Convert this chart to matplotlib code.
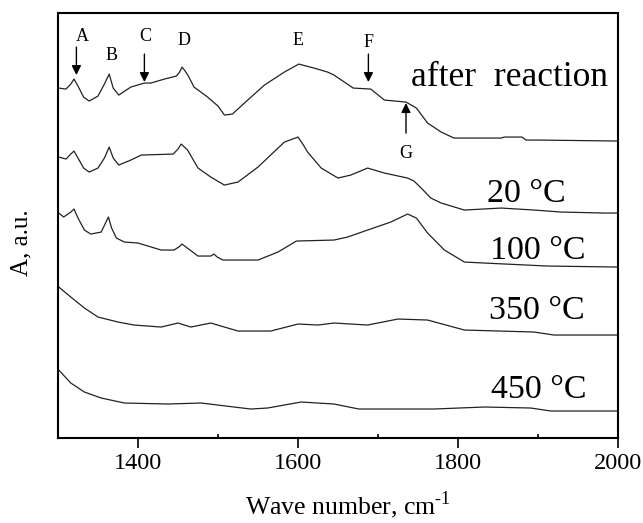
import numpy as np
import matplotlib
matplotlib.use("Agg")
import matplotlib.pyplot as plt

plt.rcParams['font.family'] = ['Liberation Serif', 'DejaVu Serif']
plt.rcParams['mathtext.fontset'] = 'custom'
plt.rcParams['mathtext.rm'] = 'Liberation Serif'

# spectra, absorbance in a.u. (offset stacked as in the figure)
wn_after = [1301, 1310, 1316, 1320, 1325, 1332, 1339, 1350, 1358, 1364, 1369, 1376, 1391, 1408, 1416,
            1433, 1448, 1452, 1455, 1459, 1463, 1470, 1487, 1500, 1508, 1518, 1533, 1558, 1583, 1601,
            1620, 1637, 1645, 1669, 1691, 1708, 1735, 1748, 1762, 1779, 1795, 1854, 1858, 1880, 1885,
            1901, 2000]
a_after = [350, 349, 354, 359, 352, 341, 337, 342, 354, 364, 350, 343, 351, 355, 355,
           359, 362, 366, 371, 367, 362, 351, 341, 332, 323, 324, 335, 353, 366, 374,
           370, 366, 363, 350, 349, 338, 336, 330, 315, 306, 300, 300, 301, 301, 298,
           298, 297]

wn_20 = [1301, 1310, 1316, 1320, 1325, 1332, 1339, 1350, 1358, 1364, 1369, 1376, 1391, 1404, 1444,
         1450, 1454, 1458, 1462, 1475, 1491, 1508, 1525, 1550, 1583, 1600, 1606, 1612, 1629, 1650,
         1666, 1687, 1708, 1737, 1745, 1754, 1766, 1779, 1808, 1854, 1895, 1929, 1983, 2000]
a_20 = [281, 279, 284, 287, 280, 270, 266, 270, 280, 291, 280, 273, 278, 283, 284,
        289, 294, 291, 288, 270, 261, 253, 256, 271, 296, 301, 294, 286, 270, 260,
        263, 270, 265, 260, 257, 250, 240, 235, 228, 230, 228, 226, 225, 225]

wn_100 = [1301, 1307, 1316, 1320, 1325, 1333, 1341, 1354, 1360, 1363, 1367, 1373, 1383, 1400, 1429,
          1445, 1451, 1455, 1460, 1475, 1491, 1495, 1499, 1506, 1550, 1575, 1598, 1645, 1662, 1687,
          1716, 1737, 1748, 1762, 1783, 1808, 1833, 1912, 2000]
a_100 = [225, 221, 226, 229, 220, 208, 204, 206, 216, 221, 210, 200, 196, 195, 188,
         188, 191, 194, 191, 182, 182, 184, 181, 178, 178, 186, 197, 198, 201, 208,
         216, 224, 220, 205, 188, 176, 175, 172, 171]

wn_350 = [1301, 1316, 1333, 1350, 1375, 1395, 1429, 1450, 1466, 1491, 1525, 1566, 1600, 1625,
          1645, 1687, 1725, 1762, 1808, 1895, 1920, 2000]
a_350 = [151, 141, 130, 121, 116, 113, 111, 115, 111, 115, 107, 107, 114, 113,
         115, 113, 119, 118, 108, 106, 103, 103]

wn_450 = [1301, 1316, 1333, 1354, 1383, 1437, 1479, 1520, 1541, 1562, 1604, 1645, 1676, 1770,
          1833, 1891, 1916, 2000]
a_450 = [68, 55, 46, 40, 35, 34, 35, 31, 29, 30, 36, 34, 29, 29,
         31, 30, 27, 27]

curve_labels = ["after  reaction", "20 °C", "100 °C", "350 °C", "450 °C"]
label_pos = [(1865, 352), (1885, 236), (1900, 179), (1899, 119), (1901, 40)]

# band markers: letter, label position, arrow (x, y_from, y_to) or None
bands = ["A", "B", "C", "D", "E", "F", "G"]
band_text = [(1331, 397), (1367, 378), (1409, 397), (1458, 393), (1600, 393), (1688, 391), (1735, 280)]
band_arrow = [(1323, 391, 363), None, (1408, 384, 356), None, None, (1688, 384, 356), (1735, 305, 335)]

fig = plt.figure(figsize=(6.43, 5.23), dpi=100)
ax = fig.add_axes([0.0902, 0.1625, 0.8709, 0.8125])

for wn, a in [(wn_after, a_after), (wn_20, a_20), (wn_100, a_100), (wn_350, a_350), (wn_450, a_450)]:
    ax.plot(wn, a, color="#222222", lw=0.9)

for txt, (x, y) in zip(curve_labels, label_pos):
    size = 25.5 if txt.startswith("after") else 24.5
    ax.text(x, y, txt, ha="center", va="baseline", fontsize=size)

for b, (x, y), arr in zip(bands, band_text, band_arrow):
    ax.text(x, y, b, ha="center", va="baseline", fontsize=13)
    if arr is not None:
        ax.annotate("", xy=(arr[0], arr[2]), xytext=(arr[0], arr[1]),
                    arrowprops=dict(arrowstyle="-|>", color="k", lw=1,
                                    mutation_scale=14, shrinkA=0, shrinkB=0))

ax.set_xlim(1300, 2000)
ax.set_ylim(0, 425)
ax.set_xticks([1400, 1600, 1800, 2000])
ax.set_xticks([1500, 1700, 1900], minor=True)
ax.set_yticks([])
ax.tick_params(axis="x", which="major", direction="out", length=7, width=1.2, labelsize=17.5, pad=4)
ax.tick_params(axis="x", which="minor", direction="in", length=3, width=1.2)
for s in ax.spines.values():
    s.set_linewidth(1.5)

ax.set_xlabel("Wave number, cm$^{\\text{-1}}$", fontsize=18.5)
ax.xaxis.set_label_coords(0.518, -0.12)
ax.set_ylabel("A, a.u.", fontsize=18)
ax.yaxis.set_label_coords(-0.045, 0.46)

fig.savefig("out.png", dpi=100)
